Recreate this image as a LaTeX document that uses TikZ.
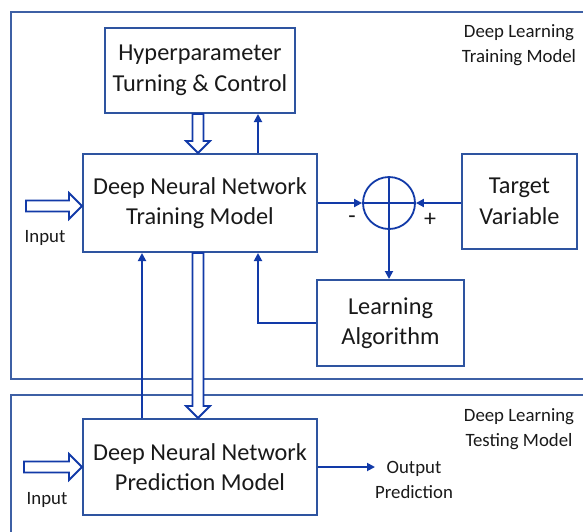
\documentclass[tikz,border=0pt]{standalone}
\usepackage{fontspec}
\setmainfont{Carlito}
\usetikzlibrary{calc,arrows.meta}
\definecolor{framec}{RGB}{62,96,165}
\definecolor{boxc}{RGB}{46,84,160}
\definecolor{arrc}{RGB}{18,58,168}
\definecolor{txtc}{RGB}{25,25,25}
\tikzset{
  blk/.style={draw=boxc, line width=2pt, rectangle, align=center, text=txtc,
    font=\fontsize{24.3}{30.5}\selectfont, inner sep=0pt},
  lbl/.style={text=txtc, align=center, font=\fontsize{18.8}{25}\selectfont, inner sep=0pt},
  arr/.style={draw=arrc, line width=1.8pt, -{Triangle[length=8pt,width=8pt]}},
  ln/.style={draw=arrc, line width=1.8pt},
  hollow/.style={draw=arrc, line width=1.8pt, fill=white, line join=miter},
  frm/.style={draw=framec, line width=2.6pt}
}
\begin{document}
\begin{tikzpicture}[x=1pt,y=-1pt]
\useasboundingbox (0,0) rectangle (583,531);
% frames
\draw[frm] (590,12) -- (11,12) -- (11,379) -- (590,379);
\draw[frm] (590,395) -- (11,395) -- (11,540);
% blocks
\node[blk, minimum width=190pt, minimum height=85pt] (hyp) at (200,70.5) {Hyperparameter\\Turning \& Control};
\node[blk, minimum width=234pt, minimum height=98pt] (dnn) at (200,203) {Deep Neural Network\\Training Model};
\node[blk, minimum width=115pt, minimum height=95pt] (tgt) at (519.5,201.5) {Target\\Variable};
\node[blk, minimum width=147pt, minimum height=86pt] (la) at (390.5,323) {Learning\\Algorithm};
\node[blk, minimum width=234pt, minimum height=96pt] (pred) at (200,467) {Deep Neural Network\\Prediction Model};
\node[circle, draw=arrc, line width=1.8pt, minimum size=52pt, inner sep=0pt] (sum) at (389,203) {};
\draw[ln] (sum.north) -- (sum.south);
\draw[ln] (sum.west) -- (sum.east);
% labels
\node[lbl] (tlab) at (519,45.5) {Deep Learning\\Training Model};
\node[lbl] (slab) at (519,429.5) {Deep Learning\\Testing Model};
\node[lbl] (in1) at (45,238) {Input};
\node[lbl] (in2) at (47,500) {Input};
\node[lbl] (outl) at (414,479.5) {Output\\Prediction};
\node[text=txtc, font=\fontsize{24}{28}\selectfont, inner sep=0pt] (minus) at (352,220) {-};
\node[text=txtc, font=\fontsize{24}{28}\selectfont, inner sep=0pt] (plus) at (430,220) {+};
\coordinate (outc) at (375,467);
\coordinate (ia) at (26,206);
\coordinate (ib) at (24,467);
% connectors
\draw[arr] ($(dnn.north)+(58,0)$) -- ($(hyp.south)+(58,0)$);
\draw[arr] (dnn.east |- sum) -- (sum.west);
\draw[arr] (tgt.west |- sum) -- (sum.east);
\draw[arr] (sum.south) -- (sum.south |- la.north);
\draw[arr] (la.west) -| ($(dnn.south)+(58,0)$);
\draw[arr] ($(pred.north)+(-58,0)$) -- ($(dnn.south)+(-58,0)$);
\draw[arr] (pred.east |- outc) -- (outc);
% hollow arrows (vertical, down)
\path[hollow] let \p1=($(hyp.south)+(-2,0)$), \p2=($(dnn.north)+(-2,0)$) in
  (\x1-5.5pt,\y1) -- (\x1-5.5pt,\y2+12pt) -- (\x1-12pt,\y2+12pt) -- (\x1,\y2)
  -- (\x1+12pt,\y2+12pt) -- (\x1+5.5pt,\y2+12pt) -- (\x1+5.5pt,\y1) -- cycle;
\path[hollow] let \p1=($(dnn.south)+(-2,0)$), \p2=($(pred.north)+(-2,0)$) in
  (\x1-5.5pt,\y1) -- (\x1-5.5pt,\y2+12pt) -- (\x1-12pt,\y2+12pt) -- (\x1,\y2)
  -- (\x1+12pt,\y2+12pt) -- (\x1+5.5pt,\y2+12pt) -- (\x1+5.5pt,\y1) -- cycle;
% hollow arrows (horizontal, right)
\path[hollow] let \p1=(ia), \p2=(dnn.west |- ia) in
  (\x1,\y1+5.5pt) -- (\x2-13pt,\y1+5.5pt) -- (\x2-13pt,\y1+13pt) -- (\x2,\y1)
  -- (\x2-13pt,\y1-13pt) -- (\x2-13pt,\y1-5.5pt) -- (\x1,\y1-5.5pt) -- cycle;
\path[hollow] let \p1=(ib), \p2=(pred.west |- ib) in
  (\x1,\y1+5.5pt) -- (\x2-13pt,\y1+5.5pt) -- (\x2-13pt,\y1+13pt) -- (\x2,\y1)
  -- (\x2-13pt,\y1-13pt) -- (\x2-13pt,\y1-5.5pt) -- (\x1,\y1-5.5pt) -- cycle;
\end{tikzpicture}
\end{document}
